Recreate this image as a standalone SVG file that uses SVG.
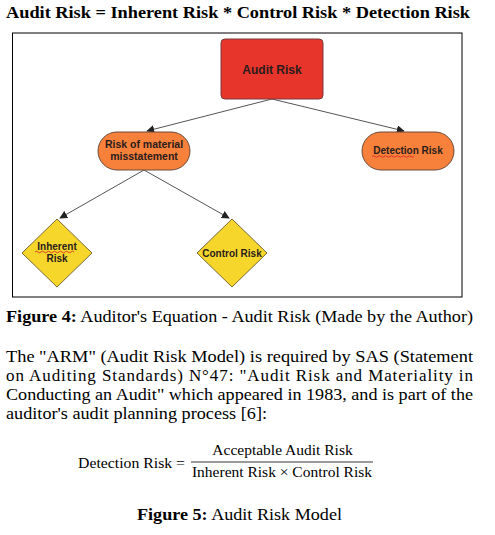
<svg xmlns="http://www.w3.org/2000/svg" width="495" height="535" viewBox="0 0 495 535">
<style>
.t{font-family:"Liberation Serif","Times New Roman",serif;fill:#000}
.b{font-weight:bold}
.n{font-family:"Liberation Sans",Arial,sans-serif;font-weight:bold;fill:#2a1c1c;text-anchor:middle}
.edge{stroke:#555;stroke-width:1;fill:none;marker-end:url(#ah)}
.sq{stroke:#d42020;stroke-width:0.8;fill:none}
</style>
<defs>
<marker id="ah" viewBox="0 0 10 10" refX="9" refY="5" markerWidth="8" markerHeight="8" orient="auto" markerUnits="userSpaceOnUse">
<path d="M0,0 L10,5 L0,10 z" fill="#222"/>
</marker>
</defs>
<rect width="495" height="535" fill="#fff"/>
<text class="t b" x="6" y="18" font-size="17" textLength="464" lengthAdjust="spacingAndGlyphs">Audit Risk = Inherent Risk * Control Risk * Detection Risk</text>
<rect x="12.5" y="33" width="449.5" height="264" fill="#fff" stroke="#000" stroke-width="1"/>
<g id="connectors">
<line class="edge" x1="272" y1="99" x2="147" y2="131"/>
<line class="edge" x1="272" y1="99" x2="404" y2="131"/>
<line class="edge" x1="144" y1="170" x2="60" y2="218"/>
<line class="edge" x1="144" y1="170" x2="229" y2="218"/>
</g>
<g id="audit-risk">
<rect x="221" y="39" width="102" height="60" rx="4" fill="#e8352b" stroke="#7a3a3a" stroke-width="1"/>
<text class="n" x="272" y="74" font-size="12">Audit Risk</text>
</g>
<g id="risk-material">
<rect x="98" y="132" width="92" height="38" rx="19" fill="#f7813a" stroke="#6a4a3a" stroke-width="1"/>
<text class="n" x="144" y="148" font-size="10.5">Risk of material</text>
<text class="n" x="144" y="160" font-size="10.5">misstatement</text>
</g>
<g id="detection-risk">
<rect x="362" y="132" width="92" height="38" rx="19" fill="#f7813a" stroke="#6a4a3a" stroke-width="1"/>
<text class="n" x="408" y="154" font-size="10">Detection Risk</text>
<path class="sq" d="M372,156.5 q1.5,-1.5 3,0 t3,0 t3,0 t3,0 t3,0 t3,0 t3,0 t3,0 t3,0 t3,0 t3,0 t3,0 t3,0 t3,0"/>
</g>
<g id="inherent-risk">
<polygon points="57,219 92,253 57,287 22,253" fill="#f7d62c" stroke="#7a6a3a" stroke-width="1"/>
<text class="n" x="57" y="250" font-size="10">Inherent</text>
<text class="n" x="57" y="262" font-size="10">Risk</text>
<path class="sq" d="M35,252 q1.5,-1.5 3,0 t3,0 t3,0 t3,0 t3,0 t3,0 t3,0 t3,0 t3,0 t3,0 t3,0 t3,0 t3,0"/>
</g>
<g id="control-risk">
<polygon points="232,219 267,253 232,287 197,253" fill="#f7d62c" stroke="#7a6a3a" stroke-width="1"/>
<text class="n" x="232" y="257" font-size="10">Control Risk</text>
</g>
<text class="t" x="6" y="322" font-size="16.5" textLength="467" lengthAdjust="spacingAndGlyphs"><tspan class="b">Figure 4:</tspan> Auditor's Equation - Audit Risk (Made by the Author)</text>
<text class="t" x="6" y="362" font-size="17" textLength="467" lengthAdjust="spacingAndGlyphs">The "ARM" (Audit Risk Model) is required by SAS (Statement</text>
<text class="t" x="6" y="381" font-size="17" textLength="467" lengthAdjust="spacing">on Auditing Standards) N°47: "Audit Risk and Materiality in</text>
<text class="t" x="6" y="400" font-size="17" textLength="467" lengthAdjust="spacingAndGlyphs">Conducting an Audit" which appeared in 1983, and is part of the</text>
<text class="t" x="6" y="419" font-size="17" textLength="261" lengthAdjust="spacingAndGlyphs">auditor's audit planning process [6]:</text>
<text class="t" x="78" y="468" font-size="15" textLength="107" lengthAdjust="spacingAndGlyphs">Detection Risk =</text>
<text class="t" x="282.5" y="455" font-size="15.5" text-anchor="middle">Acceptable Audit Risk</text>
<line x1="191" y1="462" x2="373" y2="462" stroke="#000" stroke-width="0.8"/>
<text class="t" x="282" y="477" font-size="15.5" text-anchor="middle">Inherent Risk × Control Risk</text>
<text class="t" x="137" y="520" font-size="16.5" textLength="205" lengthAdjust="spacingAndGlyphs"><tspan class="b">Figure 5:</tspan> Audit Risk Model</text>
</svg>
